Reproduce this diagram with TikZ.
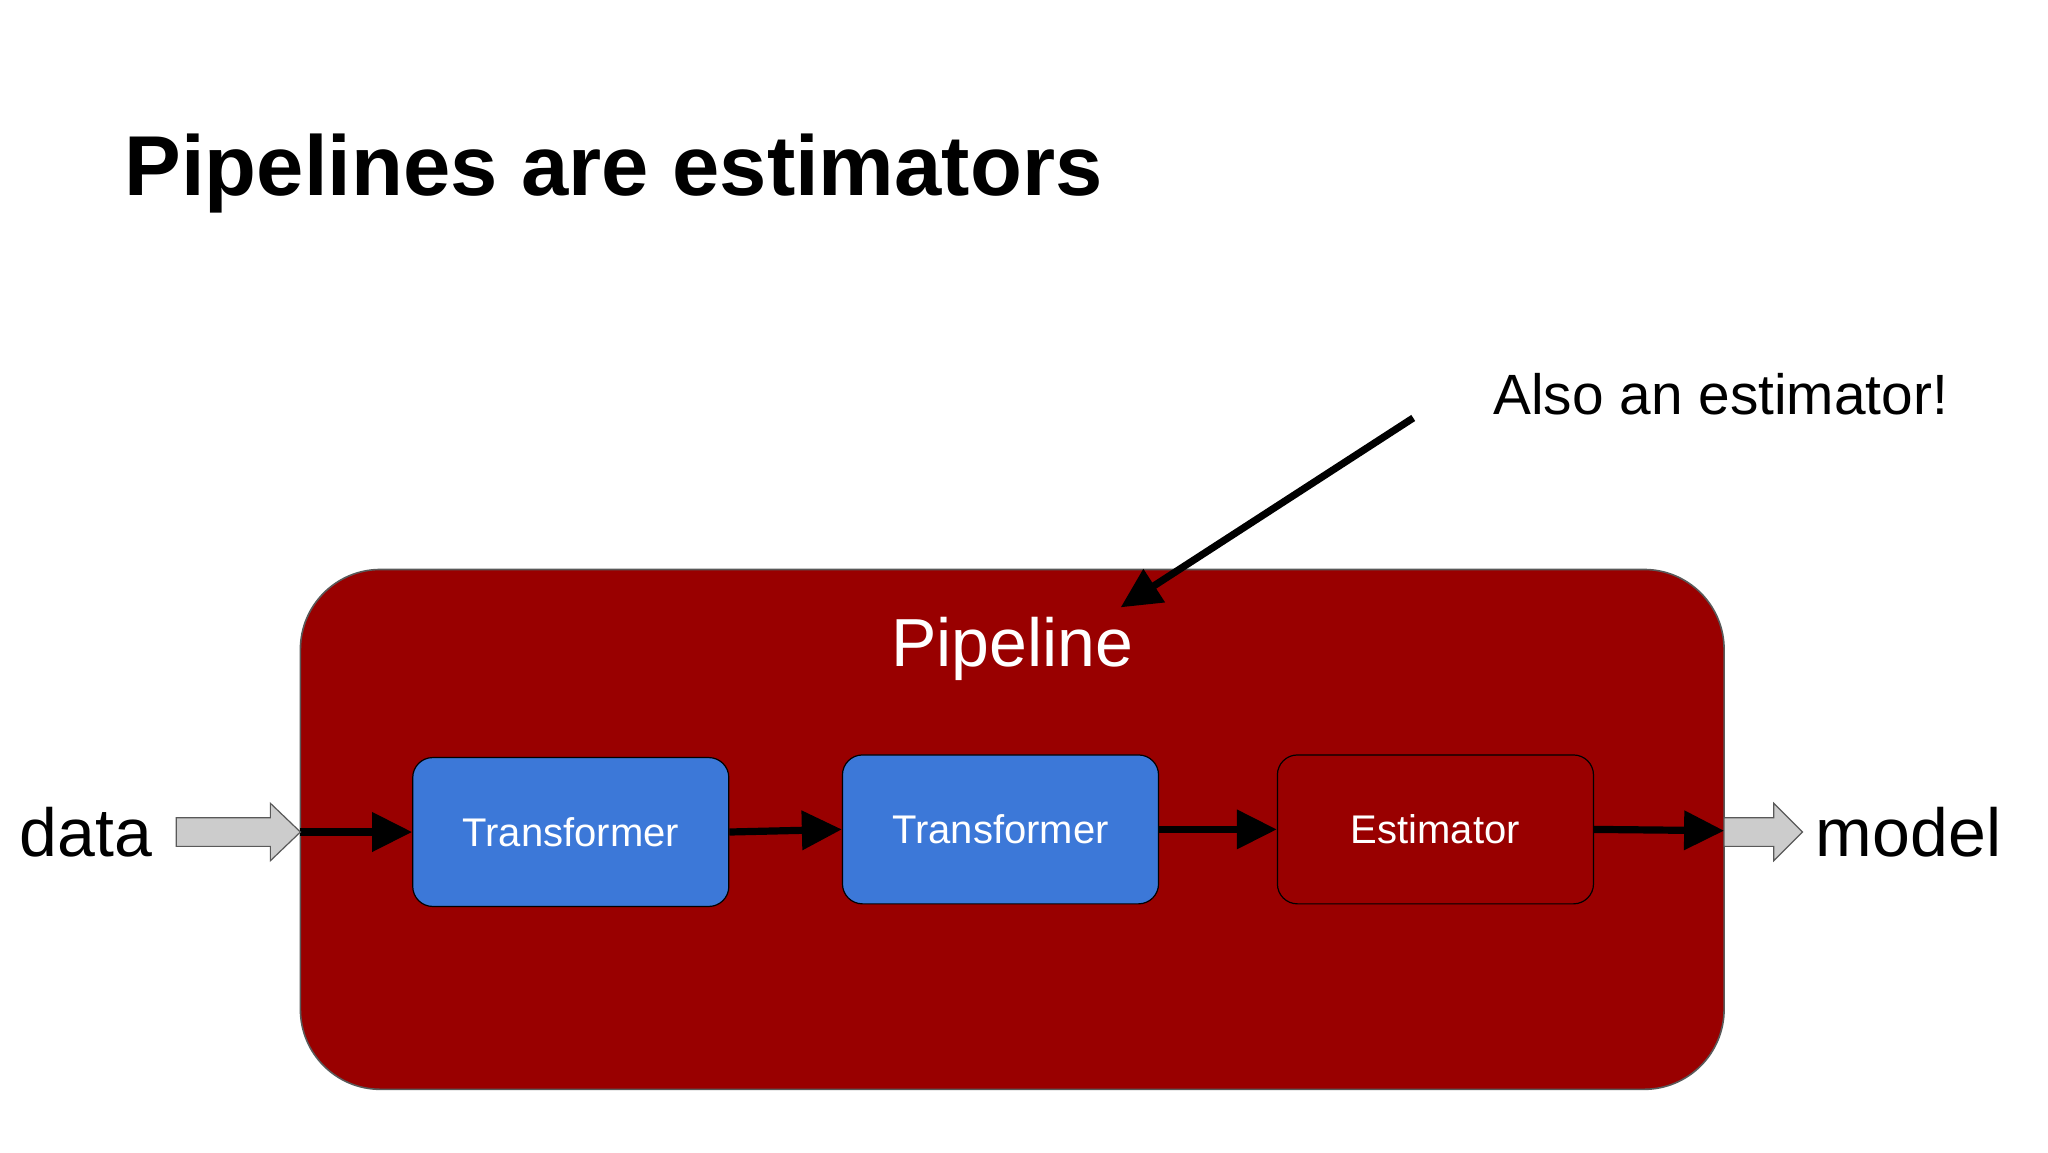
\documentclass[tikz,border=0pt]{standalone}
\usepackage{fontspec}
\setmainfont{Liberation Sans}
\usetikzlibrary{arrows.meta}
\definecolor{pred}{HTML}{990000}
\definecolor{pblue}{HTML}{3C78D8}
\begin{document}
\begin{tikzpicture}[x=0.65306pt,y=-0.65306pt,
  box/.style={draw=black,rounded corners=10pt,minimum width=242*0.65306pt,minimum height=114*0.65306pt,text=white,font=\fontsize{20}{24}\selectfont,line width=0.6pt},
  conn/.style={line width=3.6pt,-{Triangle[length=20pt,width=19pt]}},
  fat/.style={fill=gray!40,draw=gray!70!black,line width=0.6pt}]
\useasboundingbox (0,0) rectangle (1568,882);
\fill[white] (0,0) rectangle (1568,882);
\node[anchor=base west,font=\bfseries\fontsize{42.5}{50}\selectfont,inner sep=0] (title) at (95,150) {Pipelines are estimators};
\node[draw=gray!70!black,fill=pred,rounded corners=40pt,minimum width=1090*0.65306pt,minimum height=398*0.65306pt,line width=0.8pt] (pipe) at (775,635) {};
\node[text=white,font=\fontsize{34}{40}\selectfont] (pl) at (775,497) {Pipeline};
\node[box,fill=pblue] (t1) at (437,637) {Transformer};
\node[box,fill=pblue] (t2) at (766,635) {Transformer};
\node[box,fill=pred] (est) at (1099,635) {Estimator};
\coordinate (in) at (230,637);
\coordinate (out) at (1320,636);
\draw[conn] (in) -- (t1.west);
\draw[conn] (t1.east) -- (t2.west);
\draw[conn] (t2.east) -- (est.west);
\draw[conn] (est.east) -- (out);
\draw[fat] (135,626) -- (207,626) -- (207,615) -- (230,637) -- (207,659) -- (207,648) -- (135,648) -- cycle;
\draw[fat] (1320,626) -- (1358,626) -- (1358,615) -- (1380,637) -- (1358,659) -- (1358,648) -- (1320,648) -- cycle;
\node[anchor=west,font=\fontsize{34}{40}\selectfont,inner sep=0] (data) at (15,637) {data};
\node[anchor=west,font=\fontsize{34}{40}\selectfont,inner sep=0] (model) at (1390,637) {model};
\node[anchor=west,font=\fontsize{28.4}{34}\selectfont,inner sep=0] (also) at (1143,302) {Also an estimator!};
\coordinate (as) at (1082,320);
\coordinate (ae) at (858,465);
\draw[conn] (as) -- (ae);
\end{tikzpicture}
\end{document}
